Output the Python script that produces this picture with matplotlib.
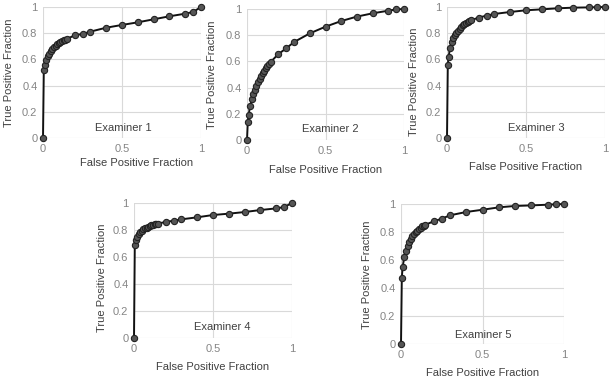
import numpy as np
import matplotlib
matplotlib.use('Agg')
import matplotlib.pyplot as plt

plt.rcParams['font.family'] = ['Liberation Sans', 'DejaVu Sans']

# valori di FPF comuni a tutti gli esaminatori
fpf = [0, 0.005, 0.01, 0.02, 0.03, 0.04, 0.05, 0.06, 0.07, 0.08, 0.09, 0.10,
       0.11, 0.12, 0.13, 0.14, 0.15, 0.2, 0.25, 0.3, 0.4, 0.5, 0.6, 0.7,
       0.8, 0.9, 0.95, 1.0]

# TPF
tpf_1 = [0, 0.52, 0.555, 0.595, 0.625, 0.645, 0.665, 0.68, 0.695, 0.705,
         0.715, 0.725, 0.73, 0.74, 0.745, 0.75, 0.755, 0.784, 0.794, 0.812,
         0.842, 0.863, 0.883, 0.906, 0.929, 0.949, 0.962, 1.0]
tpf_2 = [0, 0.14, 0.19, 0.26, 0.31, 0.35, 0.385, 0.415, 0.44, 0.465, 0.49,
         0.51, 0.53, 0.55, 0.565, 0.58, 0.595, 0.656, 0.70, 0.748, 0.814,
         0.865, 0.908, 0.942, 0.967, 0.987, 0.997, 1.0]
tpf_3 = [0, 0.555, 0.62, 0.69, 0.73, 0.76, 0.785, 0.805, 0.82, 0.835, 0.85,
         0.86, 0.87, 0.878, 0.885, 0.892, 0.898, 0.919, 0.934, 0.947, 0.962,
         0.975, 0.982, 0.99, 0.995, 0.997, 0.999, 1.0]
tpf_4 = [0, 0.69, 0.725, 0.75, 0.77, 0.785, 0.795, 0.805, 0.812, 0.818,
         0.824, 0.83, 0.834, 0.838, 0.842, 0.845, 0.848, 0.859, 0.869, 0.879,
         0.894, 0.911, 0.921, 0.933, 0.948, 0.960, 0.970, 1.0]
tpf_5 = [0, 0.475, 0.55, 0.62, 0.665, 0.70, 0.73, 0.75, 0.77, 0.785, 0.80,
         0.81, 0.822, 0.832, 0.84, 0.846, 0.852, 0.876, 0.895, 0.919, 0.943,
         0.959, 0.976, 0.986, 0.990, 0.995, 0.998, 1.0]

nomi = ['Examiner 1', 'Examiner 2', 'Examiner 3', 'Examiner 4', 'Examiner 5']
serie = [tpf_1, tpf_2, tpf_3, tpf_4, tpf_5]

# posizioni degli assi in pixel (sinistra, destra, alto, basso)
W, H = 613, 383
box = [(43, 201, 7, 138), (247, 404, 9, 140), (447, 605, 7, 138),
       (134, 292, 203, 338), (401, 564, 204, 344)]
# posizione delle etichette (coordinate degli assi)
xlab = [(0.595, -0.19), (0.5, -0.229), (0.5, -0.221), (0.5, -0.215), (0.5, -0.207)]
ylab = [(-0.215, 0.496), (-0.223, 0.496), (-0.209, 0.427), (-0.203, 0.448), (-0.209, 0.493)]
testo = [(0.506, 0.076), (0.529, 0.084), (0.563, 0.076), (0.557, 0.081), (0.503, 0.064)]

fig = plt.figure(figsize=(W / 100, H / 100), dpi=100)

for i in range(5):
    l, r, t, b = box[i]
    ax = fig.add_axes([l / W, 1 - b / H, (r - l) / W, (b - t) / H])
    ax.plot(fpf, serie[i], color='#111111', lw=1.4, marker='o', ms=4.5,
            mfc='#555555', mec='#222222', mew=0.8, zorder=3, clip_on=False)
    ax.set_xlim(0, 1)
    ax.set_ylim(0, 1)
    ax.set_xticks([0, 0.5, 1])
    ax.set_xticklabels(['0', '0.5', '1'])
    ax.set_yticks([0, 0.2, 0.4, 0.6, 0.8, 1])
    ax.set_yticklabels(['0', '0.2', '0.4', '0.6', '0.8', '1'])
    ax.tick_params(length=0, labelsize=8, colors='#858585', pad=4)
    ax.grid(True, color='#d9d9d9', lw=0.8)
    ax.set_axisbelow(True)
    for s in ax.spines.values():
        s.set_visible(False)
    ax.set_xlabel('False Positive Fraction', fontsize=8, color='#404040', va='center')
    ax.xaxis.set_label_coords(*xlab[i])
    ax.set_ylabel('True Positive Fraction', fontsize=8, color='#404040', va='center')
    ax.yaxis.set_label_coords(*ylab[i])
    ax.text(testo[i][0], testo[i][1], nomi[i], transform=ax.transAxes,
            ha='center', va='center', fontsize=8, color='#404040')

fig.savefig('out.png', dpi=100)
